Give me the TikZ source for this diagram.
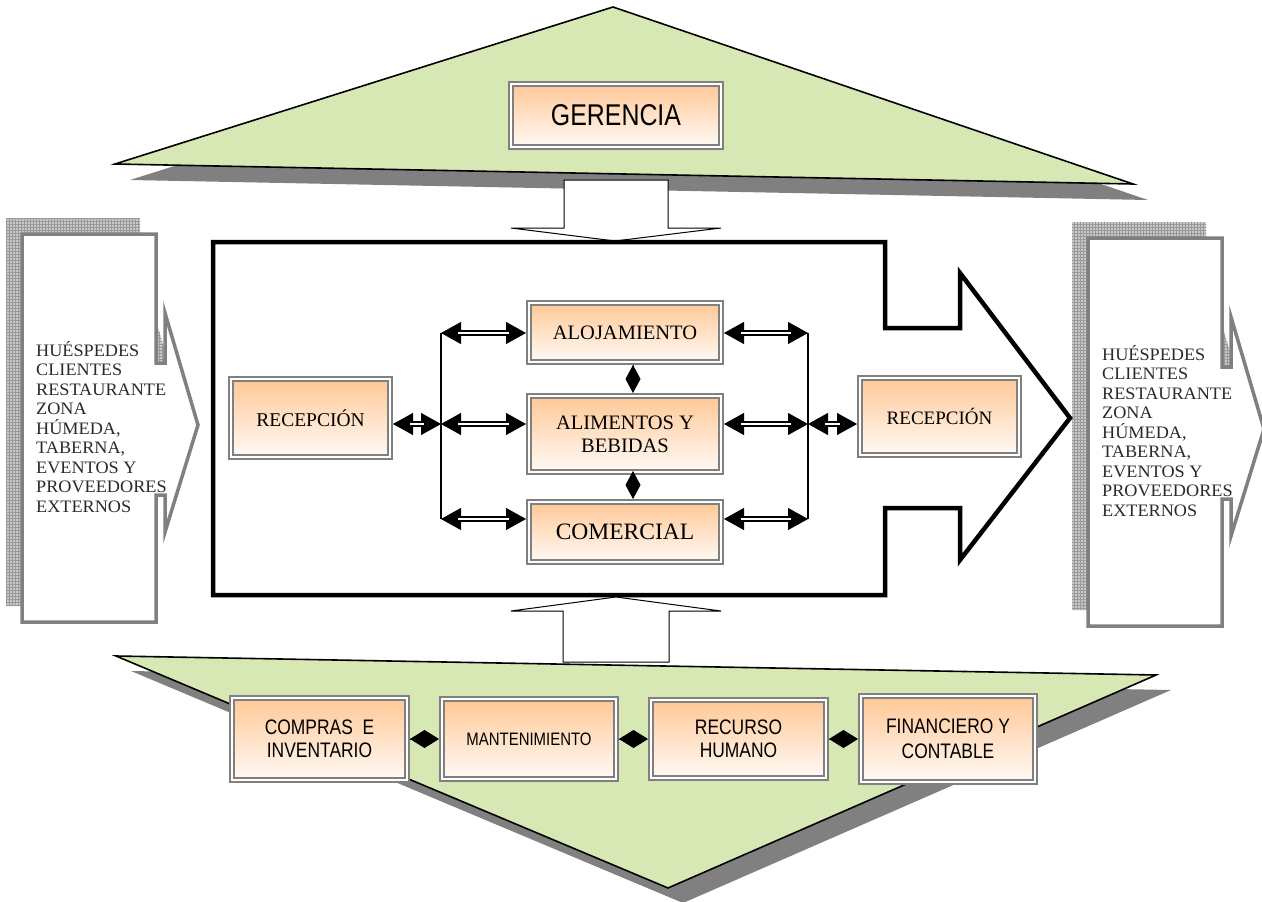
\documentclass[tikz,border=0pt]{standalone}
\usepackage{fontspec}
\setmainfont{Liberation Serif}
\newfontfamily\narrowsf[FakeStretch=0.83]{Liberation Sans}
\newfontfamily\sideserif[FakeStretch=1.04]{Liberation Serif}
\usetikzlibrary{arrows.meta,positioning,patterns}
\definecolor{hmGreen}{HTML}{D7E8B4}
\definecolor{hmShadow}{HTML}{808080}
\definecolor{hmGray}{HTML}{808080}
\definecolor{hmPeach}{HTML}{FFC896}
\definecolor{hmPeachLow}{HTML}{FFFAF6}
\definecolor{hmHatch}{HTML}{C8C8C8}
\definecolor{hmGrid}{HTML}{9A9A9A}
\definecolor{hmText}{HTML}{2A2A2A}
\tikzset{
  box/.style={draw=hmGray, double=white, double distance=2pt, line width=2pt, top color=hmPeach, bottom color=hmPeachLow, inner sep=2pt, outer sep=3pt, align=center, text=black},
  boxS/.style={box, font=\narrowsf\fontsize{21}{23}\selectfont},
  boxR/.style={box, font=\fontsize{20.5}{23}\selectfont},
  tri/.style={draw=black, line width=1.6pt, fill=hmGreen, line join=miter},
  trishd/.style={fill=hmShadow},
  blk/.style={draw=black, line width=1pt, fill=white},
  mainarr/.style={draw=black, line width=4.5pt, fill=white, line join=miter},
  sidebox/.style={draw=hmGray, line width=3.5pt, fill=white, line join=miter},
  sideshd/.style={fill=hmHatch, postaction={pattern=grid, pattern color=hmGrid}},
  sidetxt/.style={anchor=north west, inner sep=0pt, align=left, text=hmText, font=\sideserif\fontsize{17.5}{19.5}\selectfont},
  sidearrow/.style={insert path={(22,234) -- (156,234) -- (156,363) -- (165,363) -- (165,313) -- (198,425) -- (165,532) -- (165,495) -- (156,495) -- (156,622) -- (22,622) -- cycle}},
  twoway/.style={{Triangle[length=20pt,width=22pt]}-{Triangle[length=20pt,width=22pt]}, line width=0.8pt},
  twin/.style={double=white, double distance=2.2pt, line width=2pt, shorten <=17pt, shorten >=17pt},
  bus/.style={line width=1.5pt},
  dlinkV/.style={-{Diamond[length=28pt,width=15pt]}, line width=0.8pt},
  dlinkH/.style={-{Diamond[length=29pt,width=18pt]}, line width=0.8pt},
}
\begin{document}
\begin{tikzpicture}[x=1pt, y=-1pt]
\useasboundingbox (0,0) rectangle (1262,902);
% gerencia
\fill[trishd, shift={(15,16)}] (115,164) -- (613,7) -- (1133,184) -- cycle;
\draw[tri] (115,164) -- (613,7) -- (1133,184) -- cycle;
\node[box, minimum width=210pt, minimum height=63pt, font=\narrowsf\fontsize{30}{32}\selectfont] (ger) at (616,115.5) {GERENCIA};
\draw[blk] (564,180) -- (668,180) -- (668,228) -- (721,228) -- (615,241) -- (511,228) -- (564,228) -- cycle;

% entradas y salidas
\foreach \dx/\dy/\nm in {0/0/izq,1066/4/der}{
  \begin{scope}[shift={(\dx,\dy)}]
    \path[sideshd, shift={(-16,-16)}, sidearrow];
    \path[sidebox, sidearrow];
    \node[sidetxt] (ext\nm) at (36,341) {HUÉSPEDES\\CLIENTES\\RESTAURANTE\\ZONA\\HÚMEDA,\\TABERNA,\\EVENTOS Y\\PROVEEDORES\\EXTERNOS};
  \end{scope}
}

% proceso
\draw[mainarr] (213,242) -- (885,242) -- (885,328) -- (960,328) -- (960,273) -- (1070,418) -- (960,560) -- (960,508) -- (885,508) -- (885,595) -- (213,595) -- cycle;

\node[boxR, minimum width=159pt, minimum height=78pt, font=\fontsize{19.5}{22}\selectfont] (recL) at (310.5,418) {RECEPCIÓN};
\node[boxR, minimum width=192pt, minimum height=59pt] (alo) at (625,332.5) {ALOJAMIENTO};
\node[boxR, below=28pt of alo, minimum width=192pt, minimum height=76pt] (ali) {ALIMENTOS Y\\BEBIDAS};
\node[boxR, below=24pt of ali, minimum width=192pt, minimum height=60pt, font=\fontsize{23.5}{26}\selectfont] (com) {COMERCIAL};
\node[boxR, minimum width=159pt, minimum height=77pt, font=\fontsize{19}{22}\selectfont] (recR) at (939.5,416.5) {RECEPCIÓN};

\coordinate (lt) at (441,333);
\coordinate (lm) at (441,424);
\coordinate (lb) at (441,519);
\coordinate (rt) at (808,333);
\coordinate (rm) at (808,424);
\coordinate (rb) at (808,519);
\draw[bus] (lt) -- (lb);
\draw[bus] (rt) -- (rb);

\foreach \u/\v in {lt/alo,lm/ali,lb/com}{
  \draw[twoway] (\u) -- (\u -| \v.west);
  \draw[twin] (\u) -- (\u -| \v.west);
}
\foreach \u/\v in {rt/alo,rm/ali,rb/com}{
  \draw[twoway] (\u -| \v.east) -- (\u);
  \draw[twin] (\u -| \v.east) -- (\u);
}
\draw[twoway] (lm -| recL.east) -- (lm);
\draw[twin] (lm -| recL.east) -- (lm);
\draw[twoway] (rm) -- (rm -| recR.west);
\draw[twin] (rm) -- (rm -| recR.west);

\draw[dlinkV] ([xshift=8pt]alo.south) -- ([xshift=8pt]ali.north);
\draw[dlinkV] ([xshift=8pt]ali.south) -- ([xshift=8pt]com.north);

% apoyo
\fill[trishd, shift={(15,15)}] (116,656) -- (1156,675) -- (668,888) -- cycle;
\draw[tri] (116,656) -- (1156,675) -- (668,888) -- cycle;
\draw[blk] (563,662) -- (563,611) -- (511,611) -- (616,597) -- (721,611) -- (669,611) -- (669,662) -- cycle;

\node[boxS, minimum width=175pt, minimum height=82pt] (compras) at (319.5,739) {COMPRAS\ \ E\\INVENTARIO};
\node[boxS, right=29pt of compras, minimum width=174pt, minimum height=80pt, font=\narrowsf\fontsize{18}{21}\selectfont] (mant) {MANTENIMIENTO};
\node[boxS, right=29pt of mant, minimum width=175pt, minimum height=78pt] (recurso) {RECURSO\\HUMANO};
\node[boxS, right=29pt of recurso, minimum width=174pt, minimum height=86pt, font=\narrowsf\fontsize{21}{25}\selectfont] (fin) {FINANCIERO Y\\CONTABLE};

\foreach \u/\v in {compras/mant,mant/recurso,recurso/fin} \draw[dlinkH] (\u.east) -- (\v.west);
\end{tikzpicture}
\end{document}
